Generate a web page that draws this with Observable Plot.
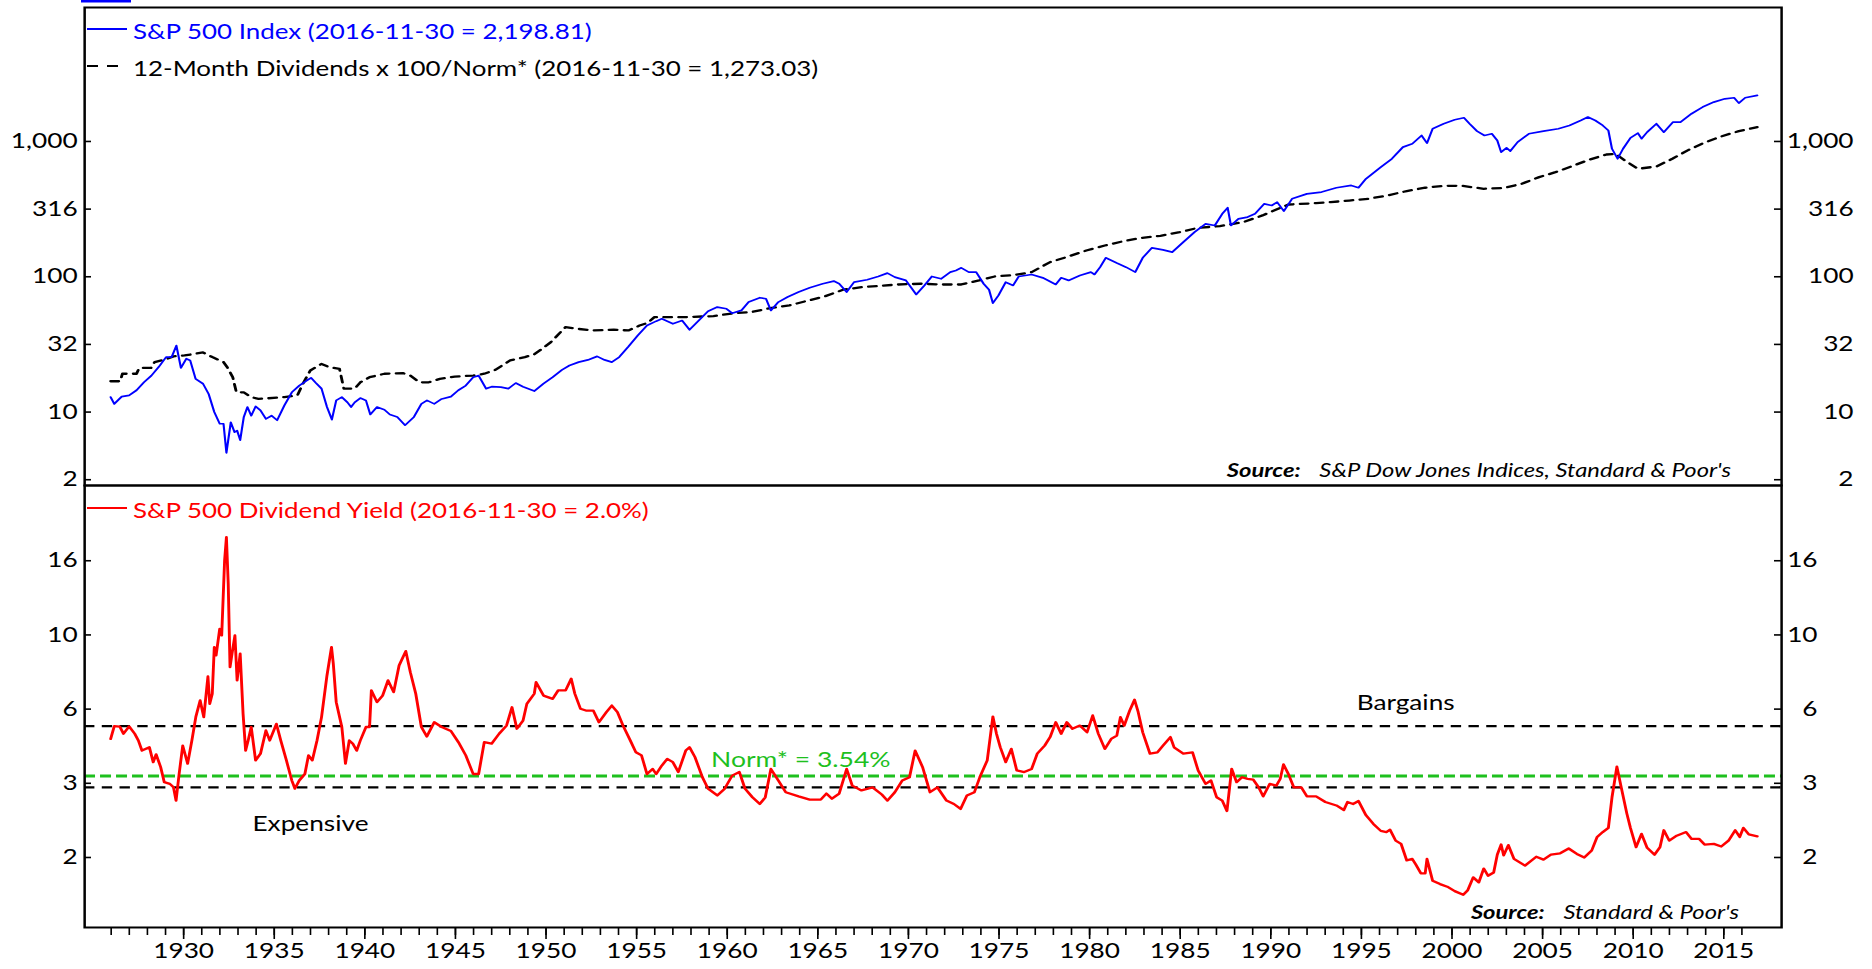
<!DOCTYPE html>
<html><head><meta charset="utf-8">
<script src="https://cdn.jsdelivr.net/npm/d3@7"></script>
<script src="https://cdn.jsdelivr.net/npm/@observablehq/plot@0.6"></script>
<style>
html,body{margin:0;padding:0;background:#fff;overflow:hidden;}
#stage{position:relative;width:1497.6px;height:969px;transform:scaleX(1.25);transform-origin:0 0;font-family:Lato,"Noto Sans",sans-serif;}
#stage > svg, #stage > div{position:absolute;left:0;}
</style></head><body>
<div id="stage"></div>
<script>
// ---------- data ----------
const spIndex = [[1925.97,12.9],[1926.17,11.5],[1926.58,13.0],[1926.99,13.3],[1927.4,14.5],[1927.81,16.6],[1928.22,18.6],[1928.62,21.5],[1929.03,25.5],[1929.34,25.5],[1929.6,31.0],[1929.85,21.2],[1930.15,24.8],[1930.36,24.1],[1930.66,17.6],[1931.07,16.2],[1931.38,13.6],[1931.69,10.0],[1931.99,8.2],[1932.2,8.2],[1932.36,5.0],[1932.6,8.4],[1932.81,7.1],[1932.95,7.3],[1933.12,6.2],[1933.32,9.2],[1933.52,10.9],[1933.73,9.4],[1933.97,11.0],[1934.24,10.3],[1934.54,8.9],[1934.85,9.4],[1935.16,8.7],[1935.56,11.2],[1935.97,14.0],[1936.38,15.7],[1936.79,17.1],[1937.03,17.9],[1937.3,16.4],[1937.61,14.9],[1937.91,10.9],[1938.18,8.8],[1938.42,12.2],[1938.73,12.9],[1939.04,11.8],[1939.24,10.9],[1939.44,11.8],[1939.75,12.7],[1940.06,12.2],[1940.3,9.6],[1940.67,10.9],[1941.08,10.4],[1941.38,9.6],[1941.79,9.2],[1942.22,8.0],[1942.71,9.2],[1943.12,11.5],[1943.43,12.2],[1943.83,11.5],[1944.24,12.5],[1944.75,13.0],[1945.16,14.5],[1945.57,15.7],[1945.98,18.1],[1946.28,18.6],[1946.69,14.9],[1947.0,15.4],[1947.51,15.3],[1947.92,14.9],[1948.33,16.4],[1948.73,15.4],[1949.35,14.3],[1949.86,16.2],[1950.37,18.1],[1950.88,20.5],[1951.29,22.1],[1951.8,23.4],[1952.31,24.3],[1952.82,25.8],[1953.23,24.3],[1953.63,23.4],[1954.04,25.5],[1954.55,30.5],[1955.06,36.8],[1955.57,43.6],[1956.08,47.0],[1956.39,48.9],[1957.0,44.9],[1957.51,47.5],[1957.92,40.6],[1958.43,47.5],[1958.94,55.7],[1959.45,59.7],[1959.96,58.0],[1960.27,53.8],[1960.78,56.4],[1961.18,65.0],[1961.8,70.0],[1962.14,68.8],[1962.41,56.4],[1962.82,65.0],[1963.33,70.8],[1963.94,77.1],[1964.55,83.0],[1965.27,88.8],[1965.88,92.9],[1966.18,88.8],[1966.59,77.1],[1967.0,91.2],[1967.72,95.1],[1968.33,100.5],[1968.84,106.4],[1969.25,99.4],[1969.86,94.0],[1970.43,74.0],[1970.88,86.3],[1971.29,100.5],[1971.8,96.6],[1972.31,108.2],[1972.62,111.4],[1972.92,116.4],[1973.33,108.2],[1973.74,108.2],[1974.15,88.8],[1974.45,80.2],[1974.66,63.8],[1974.97,72.8],[1975.37,91.2],[1975.78,86.3],[1976.09,100.5],[1976.8,104.0],[1977.42,98.2],[1978.13,87.7],[1978.43,98.2],[1978.84,94.0],[1979.46,102.3],[1980.07,108.2],[1980.27,104.0],[1980.58,117.8],[1980.89,138.0],[1981.5,126.2],[1982.01,117.8],[1982.52,108.2],[1982.93,138.0],[1983.44,163.7],[1984.05,158.1],[1984.56,152.1],[1985.17,180.3],[1985.79,213.8],[1986.4,246.2],[1986.91,239.3],[1987.32,291.7],[1987.62,323.6],[1987.8,239.5],[1988.21,268],[1988.72,276],[1989.13,292],[1989.64,346],[1990.05,336.5],[1990.35,356],[1990.72,305.5],[1991.17,377],[1991.99,410],[1992.8,422.7],[1993.62,455],[1994.44,473],[1994.84,455],[1995.25,530],[1996.07,646],[1996.68,745],[1997.29,908],[1997.81,961],[1998.32,1107],[1998.62,972],[1998.93,1241],[1999.54,1352],[2000.15,1446],[2000.66,1496],[2000.97,1352],[2001.38,1192],[2001.79,1107],[2002.2,1140],[2002.5,1017],[2002.71,834],[2003.01,898],[2003.22,849],[2003.62,989],[2004.24,1140],[2005.05,1192],[2005.87,1241],[2006.48,1313],[2007.1,1429],[2007.5,1514],[2007.91,1429],[2008.32,1313],[2008.63,1205],[2008.83,883],[2009.14,745],[2009.44,883],[2009.85,1064],[2010.26,1153],[2010.46,1048],[2010.77,1172],[2011.28,1352],[2011.69,1172],[2012.2,1390],[2012.61,1390],[2013.22,1603],[2013.83,1795],[2014.45,1954],[2015.06,2067],[2015.57,2104],[2015.83,1920],[2016.18,2104],[2016.85,2189]];

const dividendsNorm = [[1925.97,16.9],[1926.5,16.9],[1926.62,19.2],[1927.4,19.2],[1927.55,21.2],[1928.2,21.2],[1928.4,23.4],[1928.95,24.4],[1929.44,25.8],[1930.05,26.2],[1931.07,27.6],[1931.58,25.5],[1932.2,23.4],[1932.4,21.5],[1932.71,18.1],[1932.91,14.0],[1933.32,14.0],[1933.73,12.9],[1934.13,12.5],[1935.56,12.9],[1936.28,13.3],[1936.58,16.2],[1936.99,20.3],[1937.61,22.7],[1938.02,21.5],[1938.6,20.9],[1938.84,14.9],[1939.44,14.9],[1939.75,16.6],[1940.26,18.1],[1941.08,19.2],[1942.1,19.4],[1942.51,18.6],[1943.02,16.6],[1943.53,16.6],[1944.14,17.6],[1944.96,18.3],[1945.98,18.6],[1946.59,19.2],[1947.2,20.5],[1948.02,24.1],[1948.83,25.5],[1949.35,26.7],[1949.86,29.9],[1950.27,32.9],[1950.57,36.2],[1951.08,42.5],[1951.7,41.3],[1952.51,40.1],[1953.74,40.6],[1954.55,40.1],[1955.16,43.6],[1955.6,45.5],[1955.98,50.3],[1957.61,50.3],[1959.24,51.2],[1960.37,53.8],[1961.33,54.8],[1962.47,59.0],[1963.43,61.4],[1964.35,66.1],[1965.37,71.5],[1966.39,80.2],[1967.41,83.8],[1968.43,85.7],[1969.45,87.7],[1970.68,88.8],[1971.8,87.7],[1972.92,87.7],[1973.9,94.0],[1974.76,100.5],[1975.78,102.8],[1976.8,108.2],[1977.82,128.3],[1978.84,141.3],[1979.82,156.4],[1980.84,170.3],[1981.87,183.2],[1982.76,193.0],[1983.91,200.9],[1984.97,213.8],[1985.99,230.1],[1987.19,236.6],[1988.47,253.5],[1989.54,284],[1990.97,342],[1992.5,350],[1993.31,356],[1994.33,366],[1995.36,377],[1996.44,399],[1997.5,430],[1998.52,455],[1999.58,470],[2000.56,470],[2001.75,447],[2002.81,452],[2003.83,486],[2004.81,545],[2005.71,593],[2006.58,653],[2007.54,731],[2008.52,801],[2009.03,810],[2009.54,724],[2010.26,628],[2011.28,653],[2012.16,745],[2013.06,867],[2013.87,972],[2014.85,1089],[2015.83,1192],[2016.85,1277]];

const dividendYield = [[1925.97,4.59],[1926.17,5.02],[1926.48,5.0],[1926.68,4.76],[1926.99,5.01],[1927.3,4.76],[1927.5,4.54],[1927.7,4.23],[1928.11,4.33],[1928.32,3.90],[1928.48,4.12],[1928.73,3.77],[1928.93,3.39],[1929.24,3.35],[1929.44,3.27],[1929.58,2.98],[1929.75,3.59],[1929.95,4.38],[1930.22,3.86],[1930.46,4.56],[1930.67,5.35],[1930.91,6.01],[1931.11,5.35],[1931.34,7.11],[1931.44,5.87],[1931.58,6.30],[1931.69,8.73],[1931.79,8.24],[1931.99,9.93],[1932.1,9.48],[1932.26,16.03],[1932.36,18.87],[1932.46,13.61],[1932.56,7.59],[1932.67,8.34],[1932.83,9.48],[1932.95,6.92],[1933.12,8.34],[1933.28,5.47],[1933.42,4.23],[1933.56,4.54],[1933.73,4.99],[1933.97,3.95],[1934.24,4.14],[1934.54,4.87],[1934.75,4.54],[1935.12,5.10],[1935.36,4.54],[1935.67,3.95],[1935.97,3.43],[1936.14,3.24],[1936.38,3.43],[1936.69,3.59],[1936.89,4.09],[1937.1,3.95],[1937.36,4.54],[1937.61,5.35],[1937.91,7.16],[1938.16,8.73],[1938.26,7.77],[1938.42,5.94],[1938.73,4.99],[1938.93,3.86],[1939.14,4.54],[1939.34,4.44],[1939.55,4.23],[1939.75,4.54],[1940.06,4.99],[1940.26,4.99],[1940.36,6.45],[1940.67,5.94],[1940.98,6.22],[1941.28,6.92],[1941.59,6.37],[1941.89,7.68],[1942.26,8.49],[1942.51,7.33],[1942.81,6.30],[1943.12,4.99],[1943.42,4.67],[1943.83,5.16],[1944.24,4.99],[1944.75,4.85],[1945.16,4.49],[1945.57,4.09],[1945.98,3.59],[1946.28,3.59],[1946.59,4.49],[1947.0,4.44],[1947.41,4.76],[1947.82,5.04],[1948.12,5.73],[1948.39,4.93],[1948.73,5.22],[1948.94,5.87],[1949.35,6.30],[1949.45,6.83],[1949.86,6.22],[1950.37,6.08],[1950.67,6.45],[1951.08,6.45],[1951.39,7.00],[1951.59,6.30],[1951.9,5.67],[1952.2,5.60],[1952.61,5.60],[1952.92,5.16],[1953.33,5.54],[1953.63,5.80],[1953.94,5.54],[1954.25,5.04],[1954.65,4.54],[1954.96,4.18],[1955.27,4.09],[1955.57,3.59],[1955.88,3.72],[1956.08,3.59],[1956.39,3.81],[1956.69,3.99],[1957.0,3.90],[1957.3,3.64],[1957.71,4.23],[1957.92,4.33],[1958.22,4.04],[1958.63,3.51],[1958.94,3.24],[1959.45,3.09],[1959.86,3.24],[1960.27,3.55],[1960.67,3.64],[1960.98,3.24],[1961.39,3.05],[1961.8,2.91],[1962.1,3.05],[1962.41,3.72],[1962.82,3.43],[1963.23,3.16],[1963.94,3.07],[1964.55,3.00],[1965.16,3.00],[1965.47,3.13],[1965.78,3.02],[1966.18,3.13],[1966.59,3.72],[1966.9,3.31],[1967.41,3.20],[1968.02,3.27],[1968.53,3.11],[1968.84,2.98],[1969.25,3.16],[1969.66,3.43],[1970.06,3.51],[1970.37,4.23],[1970.78,3.77],[1971.19,3.16],[1971.6,3.27],[1972.1,2.98],[1972.51,2.91],[1972.88,2.81],[1973.23,3.09],[1973.64,3.16],[1973.94,3.51],[1974.35,3.95],[1974.66,5.37],[1974.86,4.76],[1975.07,4.33],[1975.37,3.90],[1975.68,4.28],[1975.98,3.68],[1976.39,3.64],[1976.8,3.72],[1977.11,4.14],[1977.52,4.38],[1977.82,4.65],[1978.13,5.16],[1978.43,4.76],[1978.74,5.16],[1979.05,4.93],[1979.46,5.04],[1979.86,4.81],[1980.17,5.41],[1980.48,4.76],[1980.84,4.28],[1981.19,4.59],[1981.5,4.70],[1981.7,5.35],[1981.91,5.04],[1982.21,5.60],[1982.48,6.04],[1982.68,5.54],[1982.93,4.81],[1983.33,4.14],[1983.74,4.18],[1984.05,4.38],[1984.46,4.65],[1984.66,4.33],[1985.17,4.14],[1985.68,4.18],[1985.99,3.68],[1986.4,3.35],[1986.7,3.43],[1987.01,3.05],[1987.32,2.98],[1987.58,2.77],[1987.84,3.72],[1988.11,3.39],[1988.41,3.51],[1988.72,3.47],[1989.03,3.45],[1989.33,3.27],[1989.58,3.07],[1989.94,3.35],[1990.31,3.31],[1990.52,3.47],[1990.7,3.84],[1990.97,3.59],[1991.27,3.27],[1991.68,3.27],[1991.99,3.07],[1992.5,3.07],[1993.01,2.95],[1993.62,2.88],[1994.03,2.79],[1994.23,2.95],[1994.54,2.91],[1994.84,2.97],[1995.25,2.69],[1995.66,2.53],[1996.07,2.41],[1996.38,2.39],[1996.58,2.43],[1996.89,2.25],[1997.19,2.20],[1997.5,1.96],[1997.81,1.98],[1998.01,1.90],[1998.28,1.79],[1998.52,1.79],[1998.62,1.98],[1998.93,1.70],[1999.34,1.66],[1999.74,1.63],[2000.15,1.58],[2000.62,1.54],[2000.87,1.59],[2001.17,1.74],[2001.48,1.68],[2001.75,1.85],[2001.99,1.76],[2002.3,1.80],[2002.5,2.04],[2002.71,2.19],[2002.85,2.03],[2003.11,2.18],[2003.42,1.98],[2004.03,1.89],[2004.65,2.01],[2005.05,1.97],[2005.46,2.04],[2005.97,2.06],[2006.44,2.13],[2006.89,2.05],[2007.3,2.00],[2007.71,2.10],[2008.01,2.31],[2008.32,2.39],[2008.63,2.46],[2008.83,3.05],[2009.1,3.78],[2009.34,3.27],[2009.65,2.72],[2009.85,2.46],[2010.16,2.15],[2010.46,2.36],[2010.77,2.14],[2011.18,2.04],[2011.48,2.15],[2011.69,2.42],[2011.99,2.25],[2012.4,2.33],[2012.92,2.39],[2013.22,2.28],[2013.63,2.28],[2013.94,2.19],[2014.45,2.20],[2014.86,2.16],[2015.26,2.25],[2015.63,2.42],[2015.88,2.31],[2016.08,2.46],[2016.38,2.35],[2016.85,2.32]];

const normLevel = 3.54;
const bargainLevel = 5.02;
const expensiveLevel = 3.27;

const topTicks = [3.1623, 10, 31.623, 100, 316.23, 1000];
const topTickLabels = ["2", "10", "32", "100", "316", "1,000"];
const bottomTicks = [2, 3.3636, 5.6569, 9.5137, 16];
const bottomTickLabels = ["2", "3", "6", "10", "16"];
const minorYears = d3.range(1926, 2017);
const majorYears = d3.range(1930, 2016, 5);

const legendTop = [
  {label: "S&P 500 Index (2016-11-30 = 2,198.81)", color: "#0000ff", dash: null},
  {label: "12-Month Dividends x 100/Norm* (2016-11-30 = 1,273.03)", color: "#000000", dash: "11,9"}
];
const legendBottom = [{label: "S&P 500 Dividend Yield (2016-11-30 = 2.0%)", color: "#ff0000", dash: null}];
const zoneLabels = [
  {x: 1997.44, y: 5.90, text: "Bargains"},
  {x: 1937.0, y: 2.52, text: "Expensive"}
];
const normLabel = [{x: 1959.11, y: 3.95, text: "Norm* = 3.54%"}];
const sourceTop = ["Source:", "S&P Dow Jones Indices, Standard & Poor's"];
const sourceBottom = ["Source:", "Standard & Poor's"];

// ---------- layout ----------
const SX = 1.25;
const W = 1872 / SX;
const ML = 84 / SX, MR = W - 1781 / SX;
const PW = W - ML - MR;
const TICK = 7 / SX;
const xDomain = [1924.536, 2018.19];
const FONT = "Lato, 'Noto Sans', sans-serif";
const GREEN = "#1ec01e";
const toObj = a => a.map(([year, value]) => ({year, value}));

function yAxisMarks(ticks, labels, rightPad) {
  return [
    Plot.ruleY(ticks, {y: d => d, insetRight: PW - TICK, stroke: "#000", strokeWidth: 1.6}),
    Plot.ruleY(ticks, {y: d => d, insetLeft: PW - TICK, stroke: "#000", strokeWidth: 1.6}),
    Plot.text(ticks, {y: d => d, text: (d, i) => labels[i], frameAnchor: "left", dx: -5.6, textAnchor: "end", fontSize: 21, fill: "#000"}),
    Plot.text(ticks, {y: d => d, text: (d, i) => labels[i], frameAnchor: "right", dx: rightPad, textAnchor: "end", fontSize: 21, fill: "#000"})
  ];
}

const stage = document.getElementById("stage");

const topPlot = Plot.plot({
  width: W, height: 486, marginTop: 7, marginBottom: 1, marginLeft: ML, marginRight: MR,
  style: {fontFamily: FONT, fontSize: "21px", color: "#000", background: "transparent", overflow: "visible"},
  x: {type: "linear", domain: xDomain, axis: null},
  y: {type: "log", domain: [2.867, 9774], axis: null},
  marks: [
    Plot.line(toObj(dividendsNorm), {x: "year", y: "value", stroke: "#000", strokeWidth: 2.3, strokeDasharray: "6.5,5.5"}),
    Plot.line(toObj(spIndex), {x: "year", y: "value", stroke: "#0000ff", strokeWidth: 1.7}),
    ...yAxisMarks(topTicks, topTickLabels, 72 / SX),
    Plot.frame({stroke: "#000", strokeWidth: 2})
  ]
});
topPlot.style.top = "0px";
stage.appendChild(topPlot);

const botPlot = Plot.plot({
  width: W, height: 484, marginTop: 0, marginBottom: 42, marginLeft: ML, marginRight: MR,
  style: {fontFamily: FONT, fontSize: "21px", color: "#000", background: "transparent", overflow: "visible"},
  x: {type: "linear", domain: xDomain, axis: null},
  y: {type: "log", domain: [1.2246, 27.11], axis: null},
  marks: [
    Plot.ruleY([bargainLevel], {stroke: "#000", strokeWidth: 2.4, strokeDasharray: "8.3,5.9"}),
    Plot.ruleY([expensiveLevel], {stroke: "#000", strokeWidth: 2.4, strokeDasharray: "8.3,5.9"}),
    Plot.ruleY([normLevel], {stroke: GREEN, strokeWidth: 3, strokeDasharray: "8.8,4"}),
    Plot.line(toObj(dividendYield), {x: "year", y: "value", stroke: "#ff0000", strokeWidth: 2.3}),
    Plot.text(zoneLabels, {x: "x", y: "y", text: "text", fill: "#000", textAnchor: "middle", fontSize: 21}),
    Plot.text(normLabel, {x: "x", y: "y", text: "text", fill: GREEN, textAnchor: "start", fontSize: 21.2}),
    ...yAxisMarks(bottomTicks, bottomTickLabels, 36 / SX),
    Plot.axisX({ticks: minorYears, anchor: "bottom", tickSize: 8, fill: "none", strokeWidth: 1.3, label: null}),
    Plot.axisX({ticks: majorYears, anchor: "bottom", tickSize: 12, tickPadding: 4, strokeWidth: 1.3, tickFormat: d => String(d), fontSize: 21, label: null}),
    Plot.frame({stroke: "#000", strokeWidth: 2})
  ]
});
botPlot.style.top = "485px";
stage.appendChild(botPlot);

// ---------- legends and sources (inside the frame) ----------
const ov = d3.select(stage).append("svg")
  .attr("width", W).attr("height", 969)
  .style("top", "0px").style("overflow", "visible").style("pointer-events", "none")
  .style("font-family", FONT);

ov.append("rect").attr("x", 81 / SX).attr("y", 0).attr("width", 50 / SX).attr("height", 2.5).attr("fill", "#0000ff");

function drawLegend(items, y0, dy) {
  items.forEach((d, i) => {
    const y = y0 + i * dy;
    ov.append("line").attr("x1", 87 / SX).attr("x2", (d.dash ? 118 : 127) / SX)
      .attr("y1", y - 2).attr("y2", y - 2)
      .attr("stroke", d.color).attr("stroke-width", 2.2)
      .attr("stroke-dasharray", d.dash ? `${11 / SX},${9 / SX}` : null);
    ov.append("text").attr("x", 133 / SX).attr("y", y).attr("dominant-baseline", "central")
      .attr("font-size", 20.75).attr("fill", d.color).text(d.label);
  });
}
drawLegend(legendTop, 31, 37);
drawLegend(legendBottom, 510, 0);

function drawSource(parts, xRight, y) {
  const t = ov.append("text").attr("x", xRight / SX).attr("y", y).attr("text-anchor", "end")
    .attr("dominant-baseline", "central").attr("font-size", 19).attr("font-style", "italic").attr("fill", "#000");
  t.append("tspan").attr("font-weight", "bold").text(parts[0]);
  t.append("tspan").attr("dx", 15).text(parts[1]);
}
drawSource(sourceTop, 1731, 470);
drawSource(sourceBottom, 1739, 912);
</script>
</body></html>
